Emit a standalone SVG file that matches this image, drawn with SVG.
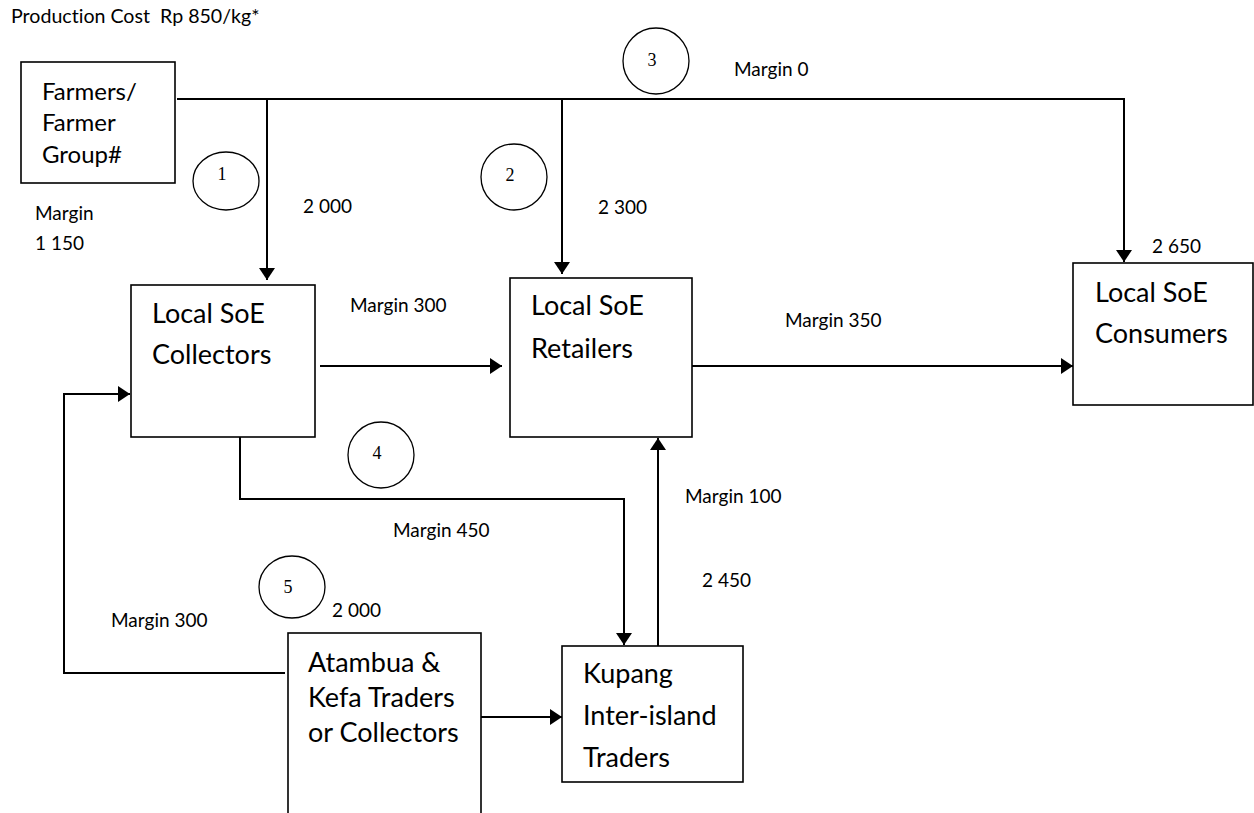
<svg xmlns="http://www.w3.org/2000/svg" width="1254" height="813" viewBox="0 0 1254 813">
  <defs>
    <marker id="arrow" viewBox="0 0 12 16" markerWidth="12" markerHeight="16" refX="12" refY="8" orient="auto" markerUnits="userSpaceOnUse">
      <path d="M0,0 L12,8 L0,16 z" fill="#000"/>
    </marker>
  </defs>
  <style>
    text { font-variant-ligatures: none; }
    .box { fill: #fff; stroke: #000; stroke-width: 1.6; }
    .wire { fill: none; stroke: #000; stroke-width: 2; }
    .tip { marker-end: url(#arrow); }
    .badge { fill: none; stroke: #000; stroke-width: 1.3; }
    .num { font-family: "Liberation Serif", "DejaVu Serif", serif; font-size: 18px; text-anchor: middle; fill: #000; }
    .lbl { font-family: Lato, "Open Sans", sans-serif; font-size: 19px; fill: #000; }
    .name { font-family: Lato, "Open Sans", sans-serif; font-size: 27px; fill: #000; }
    .name-sm { font-family: Lato, "Open Sans", sans-serif; font-size: 24px; fill: #000; }
  </style>

  <rect width="1254" height="813" fill="#fff"/>

  <text class="lbl" x="11" y="23" style="font-size:19.6px" xml:space="preserve">Production Cost  Rp 850/kg*</text>

  <!-- flow lines -->
  <g id="connectors">
    <path class="wire tip" d="M177,99 H1124 V262"/>
    <path class="wire tip" d="M267,99 V280"/>
    <path class="wire tip" d="M562,99 V274"/>
    <path class="wire tip" d="M320,366 H502"/>
    <path class="wire tip" d="M689,366 H1073"/>
    <path class="wire tip" d="M240,437 V499 H624 V645"/>
    <path class="wire tip" d="M658,646 V438"/>
    <path class="wire tip" d="M481,717 H562"/>
    <path class="wire tip" d="M285,673 H64 V394 H130"/>
  </g>

  <!-- channel numbers -->
  <g id="channel-1">
    <ellipse class="badge" cx="226" cy="181" rx="33" ry="29"/>
    <text class="num" x="222" y="180">1</text>
  </g>
  <g id="channel-2">
    <ellipse class="badge" cx="514" cy="177" rx="33" ry="33"/>
    <text class="num" x="510" y="181">2</text>
  </g>
  <g id="channel-3">
    <ellipse class="badge" cx="656" cy="61" rx="33" ry="33"/>
    <text class="num" x="652" y="66">3</text>
  </g>
  <g id="channel-4">
    <ellipse class="badge" cx="381" cy="455" rx="33" ry="33"/>
    <text class="num" x="377" y="459">4</text>
  </g>
  <g id="channel-5">
    <ellipse class="badge" cx="292" cy="587" rx="33" ry="31"/>
    <text class="num" x="288" y="593">5</text>
  </g>

  <!-- actors -->
  <g id="farmers">
    <rect class="box" x="21" y="62" width="154" height="121"/>
    <text class="name-sm" x="42" y="100">Farmers/</text>
    <text class="name-sm" x="42" y="131">Farmer</text>
    <text class="name-sm" x="42" y="163">Group#</text>
  </g>
  <g id="collectors">
    <rect class="box" x="131" y="285" width="184" height="152"/>
    <text class="name" x="152" y="323">Local SoE</text>
    <text class="name" x="152" y="364">Collectors</text>
  </g>
  <g id="retailers">
    <rect class="box" x="510" y="278" width="182" height="159"/>
    <text class="name" x="531" y="315">Local SoE</text>
    <text class="name" x="531" y="358">Retailers</text>
  </g>
  <g id="consumers">
    <rect class="box" x="1073" y="263" width="180" height="142"/>
    <text class="name" x="1095" y="302">Local SoE</text>
    <text class="name" x="1095" y="343">Consumers</text>
  </g>
  <g id="kupang">
    <rect class="box" x="562" y="646" width="181" height="136"/>
    <text class="name" x="583" y="683">Kupang</text>
    <text class="name" x="583" y="725">Inter-island</text>
    <text class="name" x="583" y="767">Traders</text>
  </g>
  <g id="atambua">
    <rect class="box" x="288" y="633" width="193" height="200"/>
    <text class="name" x="308" y="672">Atambua &amp;</text>
    <text class="name" x="308" y="707">Kefa Traders</text>
    <text class="name" x="308" y="742">or Collectors</text>
  </g>

  <!-- prices and margins -->
  <g id="labels">
    <text class="lbl" x="35" y="220">Margin</text>
    <text class="lbl" x="35" y="250">1 150</text>
    <text class="lbl" x="303" y="213">2 000</text>
    <text class="lbl" x="598" y="214">2 300</text>
    <text class="lbl" x="734" y="76">Margin 0</text>
    <text class="lbl" x="1152" y="253">2 650</text>
    <text class="lbl" x="350" y="312">Margin 300</text>
    <text class="lbl" x="785" y="327">Margin 350</text>
    <text class="lbl" x="393" y="537">Margin 450</text>
    <text class="lbl" x="685" y="503">Margin 100</text>
    <text class="lbl" x="702" y="587">2 450</text>
    <text class="lbl" x="111" y="627">Margin 300</text>
    <text class="lbl" x="332" y="617">2 000</text>
  </g>
</svg>
